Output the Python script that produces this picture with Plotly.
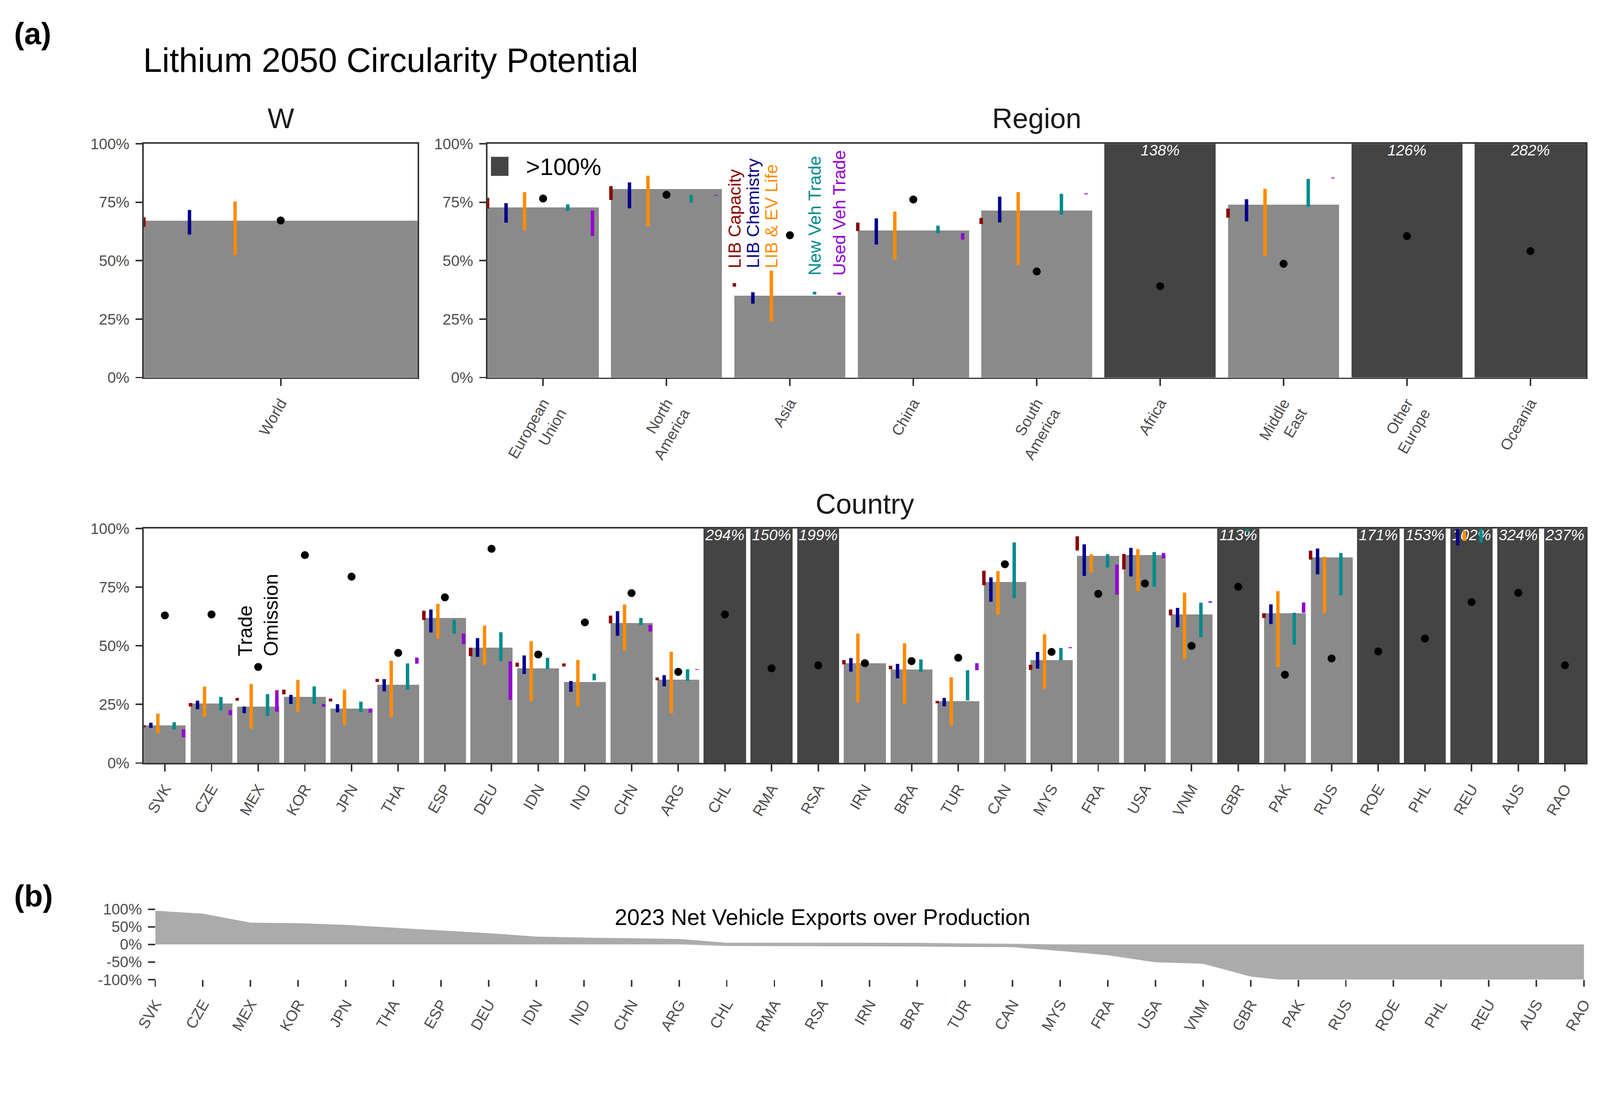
import plotly.graph_objects as go

W, H = 4204, 2834
FONT = "Liberation Sans, Arial, sans-serif"

# ---------------- data (percent) ----------------
world_names = ["World"]
world_total = [67.1]
world_mid = [67.2]
world_cap = [(64.5, 68.6)]
world_chem = [(61.2, 71.7)]
world_life = [(52.4, 75.3)]
world_new = [None]
world_used = [None]

region_names = ["European<br>Union", "North<br>America", "Asia", "China", "South<br>America",
                "Africa", "Middle<br>East", "Other<br>Europe", "Oceania"]
region_total = [72.8, 80.7, 35.0, 62.9, 71.5, 138, 74.0, 126, 282]
region_mid = [76.6, 78.2, 60.9, 76.2, 45.4, 39.1, 48.7, 60.5, 54.1]
region_cap = [(72.3, 76.9), (76.0, 81.9), (38.9, 40.4), (62.7, 66.3), (65.7, 68.3),
              None, (68.4, 72.3), None, None]
region_chem = [(66.3, 74.6), (72.4, 83.5), (31.6, 36.5), (56.9, 68.1), (66.4, 77.4),
               None, (66.8, 76.3), None, None]
region_life = [(63.0, 79.3), (64.6, 86.4), (23.9, 45.7), (50.4, 71.0), (48.0, 79.3),
               None, (52.0, 80.8), None, None]
region_new = [(71.3, 74.1), (74.8, 78.1), (35.5, 36.7), (61.8, 65.0), (69.7, 78.6),
              None, (73.0, 85.0), None, None]
region_used = [(60.6, 71.5), (77.8, 78.2), (35.4, 36.4), (59.0, 61.8), (78.4, 78.8),
               None, (85.2, 85.6), None, None]

country_names = ["SVK", "CZE", "MEX", "KOR", "JPN", "THA", "ESP", "DEU", "IDN", "IND", "CHN",
                 "ARG", "CHL", "RMA", "RSA", "IRN", "BRA", "TUR", "CAN", "MYS", "FRA", "USA",
                 "VNM", "GBR", "PAK", "RUS", "ROE", "PHL", "REU", "AUS", "RAO"]
country_total = [16.1, 25.3, 24.1, 28.2, 23.2, 33.4, 61.9, 49.2, 40.5, 34.5, 59.8,
                 35.5, 294, 150, 199, 42.6, 39.9, 26.5, 77.3, 43.8, 88.3, 88.8,
                 63.4, 113, 64.0, 87.7, 171, 153, 102, 324, 237]
country_mid = [63.0, 63.4, 41.0, 88.7, 79.5, 47.0, 70.7, 91.4, 46.3, 60.0, 72.5,
               38.9, 63.4, 40.4, 41.7, 42.6, 43.5, 44.9, 84.8, 47.4, 72.2, 76.6,
               50.0, 75.2, 37.7, 44.6, 47.6, 53.1, 68.7, 72.6, 41.7]
country_cap = [(15.2, 16.1), (24.1, 25.6), (26.6, 27.8), (29.3, 31.3), (26.3, 27.5),
               (34.6, 35.9), (61.0, 65.0), (45.6, 49.2), (41.1, 42.8), (41.2, 42.5),
               (59.6, 62.9), (35.3, 36.5), None, None, None, (42.1, 43.9), (40.0, 41.5),
               (25.5, 26.5), (75.9, 82.0), (39.7, 41.9), (90.7, 96.7), (82.6, 89.2),
               (63.0, 65.5), None, (61.9, 63.9), (86.8, 90.6), None, None, None, None, None]
country_chem = [(15.0, 17.2), (23.0, 26.6), (21.3, 24.1), (25.2, 29.1), (21.6, 25.1),
                (30.6, 35.8), (55.7, 65.5), (45.3, 53.3), (38.0, 45.9), (30.4, 35.0),
                (54.3, 64.8), (32.7, 37.5), None, None, None, (39.0, 44.8), (36.1, 42.3),
                (24.2, 27.8), (68.8, 79.2), (40.3, 47.4), (79.8, 93.3), (79.6, 91.8),
                (57.9, 66.2), None, (59.3, 67.7), (80.5, 91.5), None, None, (92.8, 99.8),
                None, None]
country_life = [(12.7, 21.1), (19.8, 32.6), (14.6, 33.7), (21.8, 35.5), (16.3, 31.3),
                (19.5, 43.6), (53.1, 67.9), (41.9, 58.6), (26.3, 52.0), (24.2, 44.0),
                (48.0, 67.6), (21.2, 47.5), None, None, None, (25.8, 55.2), (25.2, 51.1),
                (15.9, 36.6), (63.3, 81.9), (31.6, 55.0), (81.2, 89.1), (73.4, 91.3),
                (44.3, 72.7), None, (40.9, 73.3), (63.9, 88.0), None, None, (94.8, 99.0),
                None, None]
country_new = [(14.3, 17.4), (22.5, 28.2), (20.1, 29.4), (25.1, 32.7), (21.7, 26.2),
               (31.3, 42.5), (55.2, 61.1), (43.5, 55.8), (40.2, 44.9), (35.3, 38.1),
               (58.9, 61.9), (35.1, 40.0), None, None, None, None, (38.8, 44.2),
               (26.7, 39.6), (70.4, 94.1), (43.8, 49.1), (83.4, 89.1), (75.2, 90.0),
               (53.7, 68.4), (98.5, 99.8), (50.5, 64.1), (71.5, 89.6), None, None,
               (94.1, 99.8), None, None]
country_used = [(11.0, 14.4), (20.4, 22.6), (21.9, 31.1), (24.0, 25.2), (21.5, 23.2),
                (42.4, 45.0), (50.7, 55.2), (27.0, 43.4), None, None,
                (56.1, 58.9), (39.8, 40.1), None, None, None, None, None,
                (39.6, 42.6), None, (49.0, 49.4), (71.8, 84.7), (87.3, 89.6),
                (68.4, 69.0), None, (64.1, 68.5), None, None, None, None, None, None]

# 2023 net vehicle exports over production (upper / lower edge of the band)
exports_upper = [95.8, 87.3, 61.8, 60.2, 55.4, 47.3, 39.6, 31.9, 22.2, 19.4, 17.8, 15.4,
                 4.8, 4.8, 4.8, 4.8, 4.5, 2.8, 2.0, 0, 0, 0, 0, 0, 0, 0, 0, 0, 0, 0, 0]
exports_lower = [0, 0, 0, 0, 0, 0, 0, 0, 0, 0, 0, 0,
                 -4.4, -4.8, -4.8, -4.8, -5.7, -7.3, -7.7, -18.6, -30.7, -50.9, -54.9,
                 -91.3, -106, -100, -100, -100, -100, -100, -100]

factor_labels = ["LIB Capacity", "LIB Chemistry", "LIB & EV Life", "New Veh Trade", "Used Veh Trade"]
factor_colors = ["#8B0000", "#00008B", "#FF8C00", "#008B8B", "#9400D3"]
factor_offsets = [-0.45, -0.3, -0.15, 0.2, 0.4]

BAR_GREY = "#8A8A8A"
BAR_DARK = "#444444"


def px_x(p):
    return p / W


def px_y(p):
    return 1 - p / H


fig = go.Figure()


def add_panel(total, mid, factors, xa, ya):
    xs = list(range(len(total)))
    fig.add_trace(go.Bar(
        x=xs, y=[min(v, 100) for v in total], width=0.9,
        marker=dict(color=[BAR_DARK if v > 100 else BAR_GREY for v in total], line_width=0),
        xaxis=xa, yaxis=ya, showlegend=False, hoverinfo="skip"))
    over = [i for i, v in enumerate(total) if v > 100]
    if over:
        fig.add_trace(go.Scatter(
            x=over, y=[100] * len(over), mode="text",
            text=[f"{total[i]:.0f}%" for i in over], textposition="bottom center",
            textfont=dict(color="white", size=40, family=FONT, style="italic"),
            xaxis=xa, yaxis=ya, showlegend=False, hoverinfo="skip"))
    for seg, col, off in zip(factors, factor_colors, factor_offsets):
        sx, sy = [], []
        for i, s in enumerate(seg):
            if s is None:
                continue
            sx += [i + off, i + off, None]
            sy += [s[0], s[1], None]
        if sx:
            fig.add_trace(go.Scatter(
                x=sx, y=sy, mode="lines", line=dict(color=col, width=9),
                xaxis=xa, yaxis=ya, showlegend=False, hoverinfo="skip"))
    fig.add_trace(go.Scatter(
        x=xs, y=mid, mode="markers", marker=dict(color="black", size=21),
        xaxis=xa, yaxis=ya, showlegend=False, hoverinfo="skip"))


add_panel(world_total, world_mid,
          [world_cap, world_chem, world_life, world_new, world_used], "x", "y")
add_panel(region_total, region_mid,
          [region_cap, region_chem, region_life, region_new, region_used], "x2", "y2")
add_panel(country_total, country_mid,
          [country_cap, country_chem, country_life, country_new, country_used], "x3", "y3")

# panel (b) band
xb = list(range(len(country_names)))
for edge in (exports_upper, exports_lower):
    fig.add_trace(go.Scatter(x=xb, y=edge, mode="lines", fill="tozeroy",
                             fillcolor="#ABABAB", line=dict(width=0, color="#ABABAB"),
                             xaxis="x4", yaxis="y4", showlegend=False, hoverinfo="skip"))

tickfont = dict(family=FONT, size=40, color="#4D4D4D")
pct_vals = [0, 25, 50, 75, 100]
pct_text = ["0%", "25%", "50%", "75%", "100%"]


def xaxis_cfg(dom, anchor, n, names, rng, boxed=True):
    return dict(domain=dom, anchor=anchor, range=rng, tickmode="array",
                tickvals=list(range(n)), ticktext=names, tickangle=-60,
                tickfont=tickfont, ticks="outside", ticklen=18, tickwidth=4,
                tickcolor="#333333", showline=boxed, mirror=boxed, linecolor="#333333",
                linewidth=4, showgrid=False, zeroline=False, fixedrange=True,
                automargin=False, ticklabelstandoff=6)


def yaxis_cfg(dom, anchor, vals, text, rng, boxed=True):
    return dict(domain=dom, anchor=anchor, range=rng, tickmode="array",
                tickvals=vals, ticktext=text, tickfont=tickfont, ticks="outside",
                ticklen=18, tickwidth=4, tickcolor="#333333", showline=boxed,
                mirror=boxed, linecolor="#333333", linewidth=4, showgrid=False,
                zeroline=False, fixedrange=True, automargin=False, ticklabelstandoff=8)


top_dom = [px_y(992), px_y(378)]
cty_dom = [px_y(2005), px_y(1389)]
b_dom = [px_y(2574), px_y(2389)]

fig.update_layout(
    width=W, height=H, autosize=False,
    margin=dict(l=0, r=0, t=0, b=0, pad=0, autoexpand=False),
    paper_bgcolor="white", plot_bgcolor="white",
    font=dict(family=FONT, color="#1A1A1A"),
    bargap=0, barmode="overlay", showlegend=False,
    xaxis=xaxis_cfg([px_x(378), px_x(1097)], "y", 1, world_names, [-0.45, 0.45]),
    yaxis=yaxis_cfg(top_dom, "x", pct_vals, pct_text, [0, 100]),
    xaxis2=xaxis_cfg([px_x(1281), px_x(4167)], "y2", len(region_names), region_names,
                     [-0.45, len(region_names) - 0.55]),
    yaxis2=yaxis_cfg(top_dom, "x2", pct_vals, pct_text, [0, 100]),
    xaxis3=xaxis_cfg([px_x(378), px_x(4167)], "y3", len(country_names), country_names,
                     [-0.45, len(country_names) - 0.55]),
    yaxis3=yaxis_cfg(cty_dom, "x3", pct_vals, pct_text, [0, 100]),
    xaxis4=xaxis_cfg([px_x(408), px_x(4162)], "y4", len(country_names), country_names,
                     [0, len(country_names) - 1], boxed=False),
    yaxis4=yaxis_cfg(b_dom, "x4", [-100, -50, 0, 50, 100],
                     ["-100%", "-50%", "0%", "50%", "100%"], [-100, 100], boxed=False),
)

ann = []
# panel letters and titles
for letter, yc in [("(a)", 88), ("(b)", 2354)]:
    ann.append(dict(text=f"<b>{letter}</b>", x=px_x(35), y=px_y(yc), xref="paper", yref="paper",
                    xanchor="left", yanchor="middle", showarrow=False,
                    font=dict(size=80, color="black", family=FONT)))
ann.append(dict(text="Lithium 2050 Circularity Potential", x=px_x(374), y=px_y(158),
                xref="paper", yref="paper", xanchor="left", yanchor="middle",
                showarrow=False, font=dict(size=89, color="black", family=FONT)))
for txt, cx, cy in [("W", 738, 311), ("Region", 2724, 311), ("Country", 2272, 1324)]:
    ann.append(dict(text=txt, x=px_x(cx), y=px_y(cy), xref="paper", yref="paper",
                    xanchor="center", yanchor="middle", showarrow=False,
                    font=dict(size=74, color="#1A1A1A", family=FONT)))
ann.append(dict(text="2023 Net Vehicle Exports over Production", x=px_x(2161), y=px_y(2410),
                xref="paper", yref="paper", xanchor="center", yanchor="middle",
                showarrow=False, font=dict(size=59, color="black", family=FONT)))

# factor key written vertically above the Asia bar
asia = region_names.index("Asia")
label_base = [46.4, 46.4, 46.4, 43.3, 43.3]
for lab, col, off, yb in zip(factor_labels, factor_colors, factor_offsets, label_base):
    ann.append(dict(text=lab, x=asia + off, y=yb, xref="x2", yref="y2", textangle=-90,
                    xanchor="center", yanchor="bottom", showarrow=False,
                    font=dict(size=46, color=col, family=FONT)))

# trade omission note over MEX
mex = country_names.index("MEX")
ann.append(dict(text="Trade<br>Omission", x=mex, y=45.2, xref="x3", yref="y3", textangle=-90,
                xanchor="center", yanchor="bottom", align="left", showarrow=False,
                font=dict(size=52, color="black", family=FONT)))

# >100% key
ann.append(dict(text=">100%", x=px_x(1380), y=px_y(438), xref="paper", yref="paper",
                xanchor="left", yanchor="middle", showarrow=False,
                font=dict(size=63, color="black", family=FONT)))
fig.update_layout(annotations=ann)
fig.add_shape(type="rect", xref="paper", yref="paper",
              x0=px_x(1290), x1=px_x(1336), y0=px_y(462), y1=px_y(412),
              fillcolor=BAR_DARK, line_width=0)

# pin the graph to the top-left corner and fit it into the viewport
pin = ("document.documentElement.style.margin='0px';"
       "document.body.style.margin='0px';document.body.style.overflow='hidden';"
       "var gd=document.getElementById('{plot_id}');"
       "gd.style.position='fixed';gd.style.left='0px';gd.style.top='0px';"
       "var s=Math.min(window.innerWidth/%d, window.innerHeight/%d);"
       "gd.style.transformOrigin='0 0';gd.style.transform='scale('+s+')';" % (W, H))
fig.write_html("out.html", post_script=pin, config={"displayModeBar": False})
